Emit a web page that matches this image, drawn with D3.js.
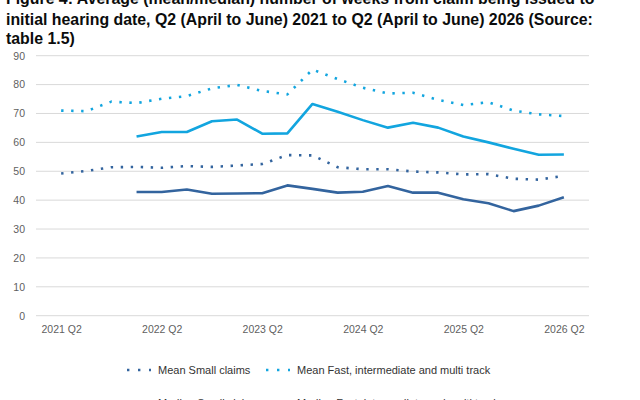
<!DOCTYPE html>
<html>
<head>
<meta charset="utf-8">
<script src="https://cdn.jsdelivr.net/npm/d3@7"></script>
<style>
  html, body { margin: 0; padding: 0; background: #fff; overflow: hidden; }
  svg { display: block; }
</style>
</head>
<body>
<svg id="chart" width="640" height="400"></svg>
<script>
// ---- Data ----
const quarters = ["2021 Q2","2021 Q3","2021 Q4","2022 Q1","2022 Q2","2022 Q3","2022 Q4","2023 Q1","2023 Q2","2023 Q3","2023 Q4",
                  "2024 Q1","2024 Q2","2024 Q3","2024 Q4","2025 Q1","2025 Q2","2025 Q3","2025 Q4","2026 Q1","2026 Q2"];
const tickLabels = ["2021 Q2","2022 Q2","2023 Q2","2024 Q2","2025 Q2","2026 Q2"];
const yTicks = [0,10,20,30,40,50,60,70,80,90];

const meanSmall   = [49.2,50.1,51.4,51.5,51.2,51.8,51.5,52.0,52.5,55.6,55.5,51.4,50.7,50.7,49.9,49.6,48.9,49.0,47.4,47.1,48.4];
const meanFast    = [71.0,70.8,74.1,73.6,75.1,76.0,78.7,79.9,77.8,76.6,85.2,81.9,78.9,76.9,77.2,74.7,72.9,73.9,71.0,69.7,69.1];
const medianSmall = [null,null,null,42.8,42.8,43.7,42.2,42.3,42.4,45.1,43.9,42.6,42.9,44.9,42.6,42.6,40.3,38.9,36.2,38.1,41.0];
const medianFast  = [null,null,null,62.0,63.6,63.6,67.3,67.9,63.0,63.1,73.3,70.6,67.7,65.1,66.8,65.1,62.0,60.0,57.8,55.7,55.8];

const seriesNames = ["Mean Small claims","Mean Fast, intermediate and multi track","Median Small claims","Median Fast, intermediate and multi track"];
const titleLines = ["Figure 4: Average (mean/median) number of weeks from claim being issued to",
                    "initial hearing date, Q2 (April to June) 2021 to Q2 (April to June) 2026 (Source:",
                    "table 1.5)"];

// ---- Styling ----
const darkBlue = "#33649e", lightBlue = "#12a5df";
const series = [
  {name: seriesNames[0], values: meanSmall,   color: darkBlue,  dotted: true},
  {name: seriesNames[1], values: meanFast,    color: lightBlue, dotted: true},
  {name: seriesNames[2], values: medianSmall, color: darkBlue,  dotted: false},
  {name: seriesNames[3], values: medianFast,  color: lightBlue, dotted: false}
];

const svg = d3.select("#chart");
const plotLeft = 36, plotRight = 589, plotTop = 55.7, plotBottom = 315.7;

// Title
const tg = svg.append("g").attr("font-family", "'Liberation Sans', Arial, sans-serif")
  .attr("font-weight", "bold").attr("font-size", 17).attr("fill", "#0b0c0c");
const baselines = [3.5, 25, 44.5];
const tt = tg.selectAll("text").data(titleLines).join("text")
  .attr("x", 0).attr("y", (d,i) => baselines[i]).text(d => d);
const w2 = tt.nodes()[1].getComputedTextLength();
const ratio = 587 / w2;
tg.attr("transform", `translate(6,0) scale(${ratio},1)`);

// Scales
const x = d3.scalePoint().domain(quarters).range([plotLeft, plotRight]).padding(1);
const y = d3.scaleLinear().domain([0, 90]).range([plotBottom, plotTop]);

// Grid
svg.append("g").selectAll("line").data(yTicks).join("line")
  .attr("x1", plotLeft).attr("x2", plotRight)
  .attr("y1", d => y(d)).attr("y2", d => y(d))
  .attr("stroke", "#d9d9d9").attr("stroke-width", 1);

// Y axis labels
const yAxis = d3.axisLeft(y).tickValues(yTicks).tickSize(0).tickPadding(11);
const yg = svg.append("g").attr("transform", `translate(${plotLeft},0)`).call(yAxis);
yg.select(".domain").remove();
yg.selectAll("text").attr("font-family", "'Liberation Sans', Arial, sans-serif")
  .attr("font-size", 10.5).attr("fill", "#5f5f5f");

// X axis labels
const xAxis = d3.axisBottom(x).tickValues(tickLabels).tickSize(0).tickPadding(10);
const xg = svg.append("g").attr("transform", `translate(0,${plotBottom})`).call(xAxis);
xg.select(".domain").remove();
xg.selectAll("text").attr("font-family", "'Liberation Sans', Arial, sans-serif")
  .attr("font-size", 10.5).attr("fill", "#5f5f5f");

// Lines
const line = d3.line()
  .defined(d => d.v != null)
  .x(d => x(d.q)).y(d => y(d.v));

series.forEach(s => {
  const data = quarters.map((q,i) => ({q, v: s.values[i]}));
  const p = svg.append("path").datum(data)
    .attr("fill", "none").attr("stroke", s.color)
    .attr("stroke-width", 2.6)
    .attr("stroke-linejoin", "round")
    .attr("d", line);
  if (s.dotted) p.attr("stroke-dasharray", "2.4 7.6");
});

// Legend
const lg = svg.append("g").attr("font-family", "'Liberation Sans', Arial, sans-serif")
  .attr("font-size", 11).attr("fill", "#333");
const legendPos = [
  {x: 127, y: 370}, {x: 266, y: 370}, {x: 127, y: 403}, {x: 266, y: 403}
];
series.forEach((s, i) => {
  const p = legendPos[i];
  const l = lg.append("line").attr("x1", p.x).attr("x2", p.x + 24)
    .attr("y1", p.y).attr("y2", p.y)
    .attr("stroke", s.color).attr("stroke-width", 2.6);
  if (s.dotted) l.attr("stroke-dasharray", "2.4 8.6");
  lg.append("text").attr("x", p.x + 31).attr("y", p.y + 4).text(s.name);
});
</script>
</body>
</html>
